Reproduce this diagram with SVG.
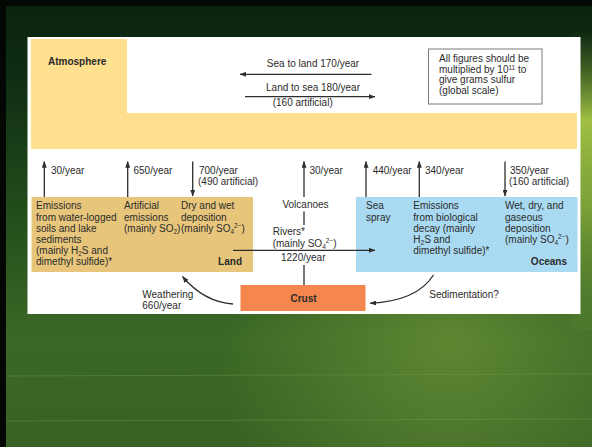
<svg xmlns="http://www.w3.org/2000/svg" width="592" height="447" viewBox="0 0 592 447">
  <defs>
    <linearGradient id="bgv" x1="0" y1="0" x2="0" y2="1">
      <stop offset="0" stop-color="#0a2410"/>
      <stop offset="0.15" stop-color="#0e2c13"/>
      <stop offset="0.5" stop-color="#25501c"/>
      <stop offset="0.75" stop-color="#3b6826"/>
      <stop offset="1" stop-color="#386224"/>
    </linearGradient>
    <linearGradient id="rightG" x1="0" y1="0" x2="0" y2="1">
      <stop offset="0" stop-color="#6f9636" stop-opacity="0"/>
      <stop offset="0.3" stop-color="#a8c646" stop-opacity="0.95"/>
      <stop offset="0.6" stop-color="#8db33e" stop-opacity="0.8"/>
      <stop offset="1" stop-color="#5d8a32" stop-opacity="0.2"/>
    </linearGradient>
    <radialGradient id="glowB" cx="450" cy="345" r="230" gradientUnits="userSpaceOnUse">
      <stop offset="0" stop-color="#78a03c" stop-opacity="0.55"/>
      <stop offset="1" stop-color="#78a03c" stop-opacity="0"/>
    </radialGradient>
    <marker id="ah" viewBox="0 0 8 6" refX="7.5" refY="3" markerWidth="7" markerHeight="5" markerUnits="userSpaceOnUse" orient="auto">
      <path d="M0,0 L8,3 L0,6 Z" fill="#2e2e2e"/>
    </marker>
    <style>
      text { font-family: "Liberation Sans", Arial, sans-serif; font-size: 10px; fill: #2b2b2b; }
      .b { font-weight: bold; }
      .s { font-size: 6.5px; }
      .ln { stroke: #2e2e2e; stroke-width: 1.3; fill: none; }
      .ar { stroke: #2e2e2e; stroke-width: 1.3; fill: none; marker-end: url(#ah); }
    </style>
  </defs>

  <!-- background slide -->
  <rect x="0" y="0" width="592" height="447" fill="#040704"/>
  <rect x="6" y="6" width="586" height="441" fill="url(#bgv)"/>
  <rect x="6" y="6" width="586" height="441" fill="url(#glowB)"/>
  <rect x="572" y="30" width="20" height="300" fill="url(#rightG)"/>
  <line x1="6" y1="376" x2="592" y2="374" stroke="#6f9a44" stroke-opacity="0.45" stroke-width="1"/>
  <line x1="6" y1="421" x2="592" y2="419" stroke="#6f9a44" stroke-opacity="0.45" stroke-width="1"/>

  <!-- white panel -->
  <rect x="27.5" y="37" width="553" height="277" fill="#ffffff"/>

  <!-- Atmosphere -->
  <g id="atmosphere">
    <path d="M31,39 H127 V113 H577 V149 H31 Z" fill="#fee08f"/>
    <text class="b" x="48" y="65">Atmosphere</text>
  </g>

  <g id="note">
    <rect x="428.5" y="49" width="113.5" height="55" fill="#ffffff" stroke="#7a7a7a" stroke-width="1"/>
    <text x="439" y="62">All figures should be</text>
    <text x="439" y="72.8">multiplied by 10<tspan class="s" dy="-3">11</tspan><tspan dy="3"> to</tspan></text>
    <text x="439" y="83.4">give grams sulfur</text>
    <text x="439" y="94">(global scale)</text>
  </g>

  <!-- Land -->
  <g id="land">
    <rect x="31.5" y="197" width="221.5" height="75" fill="#e7c67c"/>
    <text x="36" y="209.3">Emissions</text>
    <text x="36" y="220.5">from water-logged</text>
    <text x="36" y="231.7">soils and lake</text>
    <text x="36" y="242.9">sediments</text>
    <text x="36" y="254.1">(mainly H<tspan class="s" dy="2">2</tspan><tspan dy="-2">S and</tspan></text>
    <text x="36" y="265.3">dimethyl sulfide)*</text>
    <text x="124" y="209.3">Artificial</text>
    <text x="124" y="220.5">emissions</text>
    <text x="124" y="231.7">(mainly SO<tspan class="s" dy="2">2</tspan><tspan dy="-2">)</tspan></text>
    <text x="181" y="209.3">Dry and wet</text>
    <text x="181" y="220.5">deposition</text>
    <text x="181" y="231.7">(mainly SO<tspan class="s" dy="2">4</tspan><tspan class="s" dy="-6">2−</tspan><tspan dy="4">)</tspan></text>
    <text class="b" x="242" y="265" text-anchor="end">Land</text>
  </g>

  <!-- Oceans -->
  <g id="oceans">
    <rect x="356" y="197" width="221.5" height="75" fill="#a9daf1"/>
    <text x="366" y="209.3">Sea</text>
    <text x="366" y="220.5">spray</text>
    <text x="413.3" y="209.3">Emissions</text>
    <text x="413.3" y="220.5">from biological</text>
    <text x="413.3" y="231.7">decay (mainly</text>
    <text x="413.3" y="242.9">H<tspan class="s" dy="2">2</tspan><tspan dy="-2">S and</tspan></text>
    <text x="413.3" y="254.1">dimethyl sulfide)*</text>
    <text x="505" y="209.3">Wet, dry, and</text>
    <text x="505" y="220.5">gaseous</text>
    <text x="505" y="231.7">deposition</text>
    <text x="505" y="242.9">(mainly SO<tspan class="s" dy="2">4</tspan><tspan class="s" dy="-6">2−</tspan><tspan dy="4">)</tspan></text>
    <text class="b" x="567" y="265" text-anchor="end">Oceans</text>
  </g>

  <!-- Crust -->
  <g id="crust">
    <rect x="240.5" y="285" width="125" height="26" fill="#f5864d"/>
    <text class="b" x="303.5" y="302" text-anchor="middle" fill="#3a1e0c">Crust</text>
  </g>

  <!-- Connectors -->
  <g id="connectors">
    <line class="ar" x1="371.5" y1="74.3" x2="240" y2="74.3"/>
    <line class="ar" x1="245" y1="96.7" x2="375" y2="96.7"/>

    <line class="ar" x1="44.3" y1="197" x2="44.3" y2="161.5"/>
    <line class="ar" x1="127.7" y1="197" x2="127.7" y2="161.5"/>
    <line class="ar" x1="192.7" y1="161.5" x2="192.7" y2="196"/>
    <line class="ar" x1="304" y1="197" x2="304" y2="161.5"/>
    <line class="ln" x1="304" y1="211.5" x2="304" y2="225"/>
    <line class="ln" x1="304" y1="265" x2="304" y2="285"/>
    <line class="ar" x1="366" y1="197" x2="366" y2="161.5"/>
    <line class="ar" x1="419.3" y1="197" x2="419.3" y2="161.5"/>
    <line class="ar" x1="505" y1="161.5" x2="505" y2="196"/>

    <line class="ar" x1="233" y1="250.3" x2="375" y2="250.3"/>

    <path class="ar" d="M233,304 Q204,302 182.5,276.5"/>
    <path class="ar" d="M433.5,275 Q417,301 370,303.3"/>
  </g>

  <!-- flow labels -->
  <g id="labels">
    <text x="313" y="67.3" text-anchor="middle">Sea to land 170/year</text>
    <text x="313" y="91" text-anchor="middle">Land to sea 180/year</text>
    <text x="272.7" y="106">(160 artificial)</text>

    <text x="51" y="174.3">30/year</text>
    <text x="133.5" y="174.3">650/year</text>
    <text x="199" y="174.3">700/year</text>
    <text x="198" y="184.6">(490 artificial)</text>
    <text x="309.5" y="174.3">30/year</text>
    <text x="372.7" y="174.3">440/year</text>
    <text x="425" y="174.3">340/year</text>
    <text x="510" y="174.3">350/year</text>
    <text x="509" y="184.6">(160 artificial)</text>

    <text x="305.5" y="208" text-anchor="middle">Volcanoes</text>
    <text x="272.7" y="235">Rivers*</text>
    <text x="272.7" y="246.5">(mainly SO<tspan class="s" dy="2">4</tspan><tspan class="s" dy="-6">2−</tspan><tspan dy="4">)</tspan></text>
    <text x="281" y="261">1220/year</text>

    <text x="142.3" y="298.3">Weathering</text>
    <text x="142.3" y="309.3">660/year</text>
    <text x="429.3" y="298.3">Sedimentation?</text>
  </g>
</svg>
